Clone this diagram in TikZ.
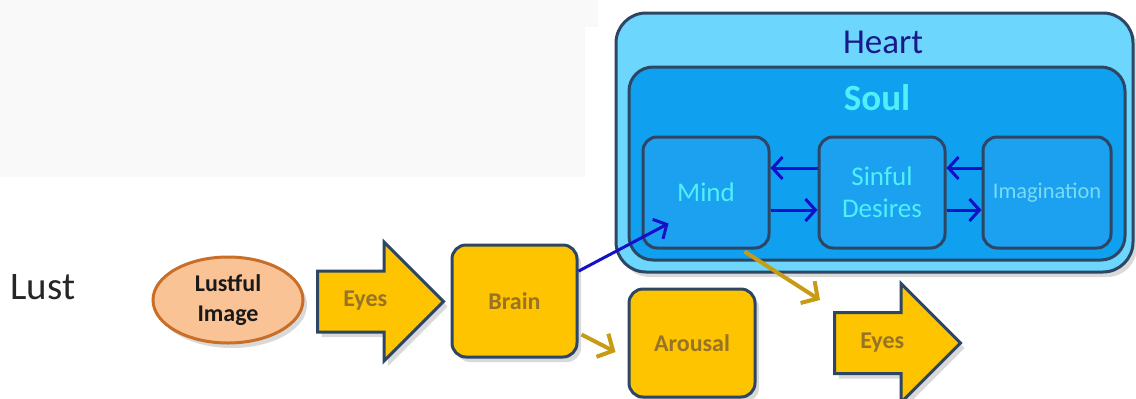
\documentclass[tikz,border=0pt]{standalone}
\usepackage{fontspec}
\setmainfont{Carlito}
\usetikzlibrary{shapes.geometric,shapes.arrows,arrows.meta,shadows}
\definecolor{bordo}{RGB}{45,70,100}
\definecolor{sfondo}{RGB}{249,249,249}
\definecolor{cuorefill}{RGB}{108,214,252}
\definecolor{animafill}{RGB}{15,160,240}
\definecolor{boxblu}{RGB}{28,160,240}
\definecolor{testocuore}{RGB}{25,25,140}
\definecolor{ciano}{RGB}{80,240,250}
\definecolor{cianochiaro}{RGB}{120,220,245}
\definecolor{orofill}{RGB}{255,196,0}
\definecolor{orotesto}{RGB}{150,115,40}
\definecolor{orofreccia}{RGB}{200,155,20}
\definecolor{bluscuro}{RGB}{20,15,200}
\definecolor{pesca}{RGB}{250,195,150}
\definecolor{pescabordo}{RGB}{200,110,40}
\tikzset{
  ombra/.style={drop shadow={opacity=0.3,shadow xshift=2pt,shadow yshift=-2.5pt}},
  scatola/.style={draw=bordo,line width=1.5pt,rounded corners=7pt,minimum width=63pt,minimum height=55.5pt,inner sep=0pt,align=center},
  scatolaoro/.style={scatola,fill=orofill,text=orotesto,font=\bfseries\fontsize{12}{15}\selectfont,ombra},
  scatolablu/.style={scatola,fill=boxblu,text=ciano,font=\fontsize{13.5}{16}\selectfont},
  frecciagrossa/.style={single arrow,draw=bordo,line width=1.5pt,fill=orofill,text=orotesto,
    font=\bfseries\fontsize{12}{15}\selectfont,single arrow head extend=14.5pt,
    minimum height=63pt,text height=8pt,text depth=3pt,inner ysep=9pt,inner xsep=6pt,ombra},
  frecciablu/.style={draw=bluscuro,line width=1.5pt,-{Straight Barb[length=5pt,width=11pt]}},
  frecciaoro/.style={draw=orofreccia,line width=2pt,-{Straight Barb[length=6pt,width=13pt]}}
}
\begin{document}
\begin{tikzpicture}[x=0.5pt,y=-0.5pt]
  \useasboundingbox (0,0) rectangle (1136,398);
  \fill[sfondo] (0,0) rectangle (585,177);% riquadro chiaro
  \fill[sfondo] (0,0) rectangle (598,27);
  \node[anchor=west,inner sep=0pt,text=black!85,font=\fontsize{19.5}{23}\selectfont] (lust) at (10,287) {Lust};
  \node[ellipse,draw=pescabordo,line width=1.5pt,fill=pesca,minimum width=75pt,minimum height=43pt,
    inner sep=0pt,align=center,text=black!90,font=\bfseries\fontsize{12}{15}\selectfont,ombra] (immagine) at (228,300) {Lustful\\Image};
  \node[frecciagrossa,anchor=tail] (occhi) at (316,301.5) {Eyes};
  \node[scatolaoro,minimum width=62.5pt,minimum height=56pt] (cervello) at (514.5,301) {Brain};
  \node[scatolaoro,minimum height=54pt] (eccitazione) at (692,343) {Arousal};
  \node[frecciagrossa,anchor=tail] (occhi2) at (833,343) {Eyes};
  % cuore e anima
  \node[draw=bordo,line width=1.5pt,rounded corners=15pt,fill=cuorefill,minimum width=258.5pt,minimum height=129.5pt,ombra] (cuore) at (874.5,142.5) {};
  \node[draw=bordo,line width=1.5pt,rounded corners=12pt,fill=animafill,minimum width=248pt,minimum height=96.5pt] (anima) at (877,163.5) {};
  \node[text=testocuore,font=\fontsize{17.5}{20}\selectfont] (cuorelbl) at (883,42) {Heart};
  \node[text=ciano,font=\bfseries\fontsize{18.5}{21}\selectfont] (animalbl) at (877,98) {Soul};
  \node[scatolablu] (mente) at (706,192.5) {Mind};
  \node[scatolablu] (desideri) at (882,192.5) {Sinful\\Desires};
  \node[scatolablu,minimum width=64pt,text=cianochiaro,font=\fontsize{11.2}{14}\selectfont] (fantasia) at (1047,192.5) {Imagination};
  % frecce
  \draw[frecciablu] ([yshift=12.25pt]desideri.west) -- ([yshift=12.25pt]mente.east);
  \draw[frecciablu] ([yshift=-8.75pt]mente.east) -- ([yshift=-8.75pt]desideri.west);
  \draw[frecciablu] ([yshift=12.25pt]fantasia.west) -- ([yshift=12.25pt]desideri.east);
  \draw[frecciablu] ([yshift=-8.75pt]desideri.east) -- ([yshift=-8.75pt]fantasia.west);
  \draw[frecciablu] (cervello.25) -- ([shift={(27,-26)}]mente.south west);
  \draw[frecciaoro] ([shift={(3,-24)}]cervello.south east) -- ([shift={(-12,9)}]eccitazione.west);
  \draw[frecciaoro] ([shift={(-26,2)}]mente.south east) -- ([shift={(-13,-43)}]occhi2.tail);
\end{tikzpicture}
\end{document}
